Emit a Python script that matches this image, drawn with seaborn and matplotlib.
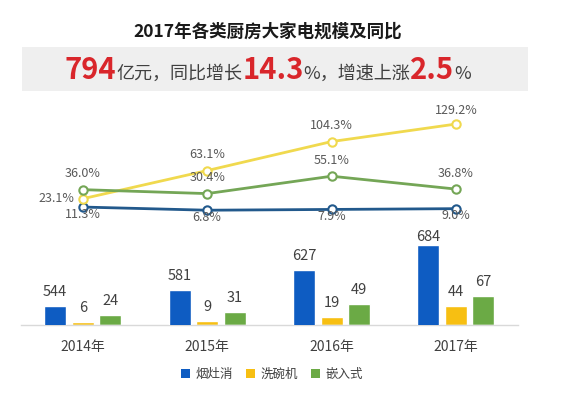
import matplotlib
matplotlib.use("Agg")
import matplotlib.pyplot as plt
from matplotlib.patches import Rectangle, Patch
import seaborn as sns
import pandas as pd

years = ['2014年', '2015年', '2016年', '2017年']
series = ['烟灶消', '洗碗机', '嵌入式']
scale_yanzao = [544, 581, 627, 684]
scale_xiwan = [6, 9, 19, 44]
scale_qianru = [24, 31, 49, 67]
growth_yanzao = [11.3, 6.8, 7.9, 9.0]
growth_xiwan = [23.1, 63.1, 104.3, 129.2]
growth_qianru = [36.0, 30.4, 55.1, 36.8]
title = '2017年各类厨房大家电规模及同比'
subtitle_parts = [('794', True), ('亿元，同比增长', False), ('14.3', True),
                  ('%，增速上涨', False), ('2.5', True), ('%', False)]

bar_colors = ['#0E5CC2', '#F7BF12', '#6BAA45']
line_colors = ['#22598C', '#F0D94E', '#74A656']

sns.set_theme(style='white')
plt.rcParams['font.family'] = ['Noto Sans CJK SC', 'DejaVu Sans']

W, H = 576, 395
fig = plt.figure(figsize=(W / 100, H / 100), dpi=100)


def fr(x0, y0, x1, y1):
    # pixel box -> figure fraction rect
    return [x0 / W, 1 - y1 / H, (x1 - x0) / W, (y1 - y0) / H]


def pt(px):
    return px * 72 / 100


# ---- header ----
fig.text(268 / W, 1 - 32 / H, title, ha='center', va='center',
         fontsize=12.6, fontweight='bold', color='#1a1a1a')
fig.patches.append(Rectangle((22 / W, 1 - 91 / H), 506 / W, 44 / H,
                             transform=fig.transFigure, facecolor='#EFEFEF',
                             edgecolor='none', zorder=0))
renderer = fig.canvas.get_renderer()
texts = []
x = 0
for s, big in subtitle_parts:
    t = fig.text(x, 1 - 79 / H, s, ha='left', va='baseline',
                 fontsize=21 if big else 13,
                 fontweight='bold' if big else 'normal',
                 color='#D9262B' if big else '#404040')
    ext = t.get_window_extent(renderer)
    texts.append(t)
    x += ext.width / W
total = x
start = 268 / W - total / 2
for t in texts:
    px, py = t.get_position()
    t.set_position((px + start, py))

# ---- line chart ----
axl = fig.add_axes(fr(20.5, 116, 518.2, 215))
idx = list(range(len(years)))
for vals, c in zip([growth_yanzao, growth_xiwan, growth_qianru], line_colors):
    d = pd.DataFrame({'x': idx, 'y': vals})
    sns.lineplot(data=d, x='x', y='y', ax=axl, color=c, linewidth=2,
                 marker='o', markersize=6, markerfacecolor='white',
                 markeredgecolor=c, markeredgewidth=1.5)
axl.set_xlim(-0.5, 3.5)
axl.set_ylim(0, 99 / 0.704)
axl.axis('off')
lab_kw = dict(textcoords='offset points', va='center',
              fontsize=9, color='#595959')
for i, v in enumerate(growth_yanzao):
    axl.annotate(f'{v:.1f}%', (i, v), xytext=(0, pt(-7)), ha='center', **lab_kw)
for i, v in enumerate(growth_xiwan):
    if i == 0:
        axl.annotate(f'{v:.1f}%', (i, v), xytext=(pt(-8), 0), ha='right', **lab_kw)
    else:
        axl.annotate(f'{v:.1f}%', (i, v), xytext=(0, pt(16 if i < 3 else 14)),
                     ha='center', **lab_kw)
for i, v in enumerate(growth_qianru):
    axl.annotate(f'{v:.1f}%', (i, v), xytext=(0, pt(16)), ha='center', **lab_kw)

# ---- bar chart ----
# 烟灶消 is drawn on its own (broken) scale starting at 500; the two small
# series share the lower scale starting at 0.
axb = fig.add_axes(fr(20.5, 238, 518.2, 325))
df = pd.DataFrame({
    'year': years * 3,
    'value': scale_yanzao + scale_xiwan + scale_qianru,
    'series': [s for s in series for _ in years],
})
pal = dict(zip(series, bar_colors))
sns.barplot(data=df, x='year', y='value', hue='series',
            hue_order=series, palette=pal, width=0.663, gap=0.2,
            ax=axb, legend=False, saturation=1)
axb2 = axb.twinx()
sns.barplot(data=df, x='year', y='value', hue='series',
            hue_order=series, palette=pal, width=0.663, gap=0.2,
            ax=axb2, legend=False, saturation=1)
axb.set_ylim(0, 200)
axb2.set_ylim(500, 700)
axb.set_xlim(-0.5, 3.5)
axb2.set_xlim(-0.5, 3.5)
for a in (axb, axb2):
    for sp in a.spines.values():
        sp.set_visible(False)
    a.set_yticks([])
    a.set_ylabel('')
    a.set_xlabel('')
axb.spines['bottom'].set_visible(True)
axb.spines['bottom'].set_color('#D9D9D9')
axb.spines['bottom'].set_linewidth(1)
axb.tick_params(axis='x', length=0, pad=pt(15), labelsize=10, labelcolor='#404040')
axb2.tick_params(axis='x', length=0)

bkw = dict(textcoords='offset points', ha='center', va='center',
           fontsize=10.5, color='#404040')
for k, cont in enumerate(axb.containers):
    for p in cont.patches:
        if k == 0:
            p.set_visible(False)
        else:
            h = p.get_height()
            axb.annotate(f'{int(round(h))}', (p.get_x() + p.get_width() / 2, h),
                         xytext=(0, pt(14)), **bkw)
for k, cont in enumerate(axb2.containers):
    n = len(cont.patches)
    for j, p in enumerate(cont.patches):
        if k != 0:
            p.set_visible(False)
        else:
            top = p.get_height()
            off = 8 if j == n - 1 else 14
            axb2.annotate(f'{int(round(top))}', (p.get_x() + p.get_width() / 2, top),
                          xytext=(0, pt(off)), **bkw)

handles = [Patch(facecolor=c, edgecolor='none') for c in bar_colors]
fig.legend(handles, series, loc='center', bbox_to_anchor=(272 / W, 1 - 374 / H),
           ncol=3, frameon=False, fontsize=9, handlelength=0.7, handleheight=0.7,
           handletextpad=0.4, columnspacing=1.1, labelcolor='#404040')

fig.savefig('out.png', dpi=100)
